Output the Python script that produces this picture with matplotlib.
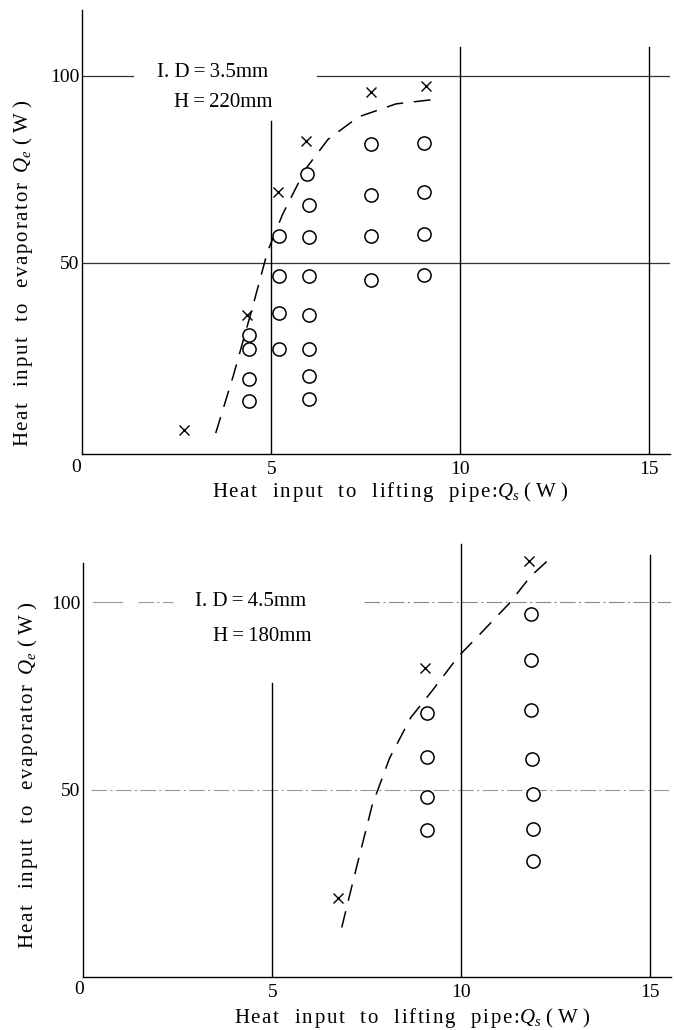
import numpy as np
import matplotlib.pyplot as plt

plt.rcParams['font.family'] = ['Liberation Serif', 'DejaVu Serif']
plt.rcParams['mathtext.fontset'] = 'custom'
plt.rcParams['mathtext.rm'] = 'Liberation Serif'
plt.rcParams['mathtext.it'] = 'Liberation Serif:italic'

# ---- data: top panel (I.D = 3.5 mm, H = 220 mm)
top_cross_x = [2.70, 4.37, 5.17, 5.93, 7.64, 9.10]
top_cross_y = [5.3, 36.0, 68.9, 82.5, 95.8, 97.3]
top_circ_x = [4.41, 4.41, 4.41, 4.41,
              5.20, 5.20, 5.20, 5.20,
              5.95, 6.00, 6.00, 6.00, 6.00, 6.00, 6.00, 6.00,
              7.65, 7.65, 7.65, 7.65,
              9.03, 9.03, 9.03, 9.03]
top_circ_y = [30.6, 27.1, 19.0, 13.1,
              57.3, 46.4, 36.5, 27.1,
              73.8, 65.6, 56.9, 46.6, 36.0, 27.1, 19.8, 13.5,
              81.9, 68.2, 57.3, 45.4,
              82.0, 68.9, 57.6, 46.9]
top_curve_x = [3.53, 4.0, 4.5, 4.9, 5.3, 5.9, 6.5, 7.3, 8.3, 9.4]
top_curve_y = [4.5, 20.0, 38.0, 53.0, 63.0, 75.0, 83.0, 89.0, 92.5, 93.8]

# ---- data: bottom panel (I.D = 4.5 mm, H = 180 mm)
bot_cross_x = [6.74, 9.05, 11.81]
bot_cross_y = [21.0, 82.6, 111.2]
bot_circ_x = [9.10, 9.10, 9.10, 9.10,
              11.86, 11.86, 11.86, 11.88, 11.90, 11.90, 11.90]
bot_circ_y = [70.6, 58.7, 48.0, 39.2,
              96.9, 84.7, 71.3, 58.3, 48.8, 39.4, 30.9]
bot_curve_x = [6.84, 7.20, 7.65, 8.11, 8.67, 9.24, 9.92, 10.6, 11.28, 11.84, 12.35]
bot_curve_y = [13.2, 28.0, 46.0, 58.5, 69.3, 76.5, 85.5, 92.6, 99.8, 107.0, 111.7]

x_ticks = [5, 10, 15]
y_ticks = [50, 100]
fs = 14
lfs = 15


def spaced(s):
    # loose letter spacing like the typeset original
    return '\u200a'.join(s)


fig = plt.figure(figsize=(6.74, 10.30), dpi=100)
ax1 = fig.add_axes([0.1221, 0.5595, 0.872, 0.4308])
ax2 = fig.add_axes([0.1236, 0.0515, 0.8716, 0.4290])


def base(ax, ylim, ybound):
    ax.set_xlim(0, 15.55)
    ax.set_ylim(*ylim)
    for s in ['top', 'right']:
        ax.spines[s].set_visible(False)
    ax.spines['left'].set_bounds(ylim[0], ybound)
    ax.spines['left'].set_linewidth(1.0)
    ax.spines['bottom'].set_linewidth(1.0)
    ax.set_xticks(x_ticks)
    ax.set_yticks(y_ticks)
    ax.tick_params(axis='x', length=0, pad=5, labelsize=fs)
    ax.tick_params(axis='y', length=0, pad=2, labelsize=fs)


base(ax1, (-1, 117.6), 117.6)
base(ax2, (0, 118), 110.6)

# top panel reference lines
ax1.plot([0, 1.35], [100, 100], color='#333333', lw=0.9)
ax1.plot([6.2, 15.55], [100, 100], color='#333333', lw=0.9)
ax1.axhline(50, color='#333333', lw=0.9)
ax1.plot([5, 5], [-1, 87.8], color='black', lw=1.0)
ax1.plot([10, 10], [-1, 107.6], color='black', lw=1.0)
ax1.plot([15, 15], [-1, 107.6], color='black', lw=1.0)

# bottom panel reference lines
gls = (0, (14, 3, 2, 3))
ax2.plot([0.26, 1.03], [100, 100], color='#999999', lw=0.8)
ax2.plot([1.44, 2.37], [100, 100], color='#999999', lw=0.8, ls=gls)
ax2.plot([7.43, 15.55], [100, 100], color='#888888', lw=0.8, ls=gls)
ax2.plot([0.2, 15.55], [50, 50], color='#999999', lw=0.8, ls=gls)
ax2.plot([5, 5], [0, 78.5], color='black', lw=1.0)
ax2.plot([10, 10], [0, 115.5], color='black', lw=1.0)
ax2.plot([15, 15], [0, 112.6], color='black', lw=1.0)

for ax, cx, cy, ox, oy, kx, ky in [
        (ax1, top_cross_x, top_cross_y, top_circ_x, top_circ_y, top_curve_x, top_curve_y),
        (ax2, bot_cross_x, bot_cross_y, bot_circ_x, bot_circ_y, bot_curve_x, bot_curve_y)]:
    ax.plot(kx, ky, color='black', lw=1.1, ls=(0, (11, 7)))
    ax.plot(cx, cy, ls='none', marker='x', ms=7, mew=1.0, color='black')
    ax.plot(ox, oy, ls='none', marker='o', ms=9.5, mew=1.1,
            mfc='white', mec='black')

ax1.text(4.91, 100.8, 'I. D\u2009=\u20093.5mm', fontsize=lfs, ha='right', va='center')
ax1.text(5.04, 93.0, 'H\u2009=\u2009220mm', fontsize=lfs, ha='right', va='center')
ax2.text(5.90, 100.2, 'I. D\u2009=\u20094.5mm', fontsize=lfs, ha='right', va='center')
ax2.text(6.03, 90.8, 'H\u2009=\u2009180mm', fontsize=lfs, ha='right', va='center')

xlab = ('   '.join(spaced(w) for w in ['Heat', 'input', 'to', 'lifting', 'pipe:'])
        + '$Q_s$ ( W )')
ylab = ('   '.join(spaced(w) for w in ['Heat', 'input', 'to', 'evaporator'])
        + '  $Q_e$ ( W )')
ax1.text(0.5236, -0.0863, xlab, transform=ax1.transAxes, fontsize=lfs,
         ha='center', va='center')
ax2.text(0.561, -0.0928, xlab, transform=ax2.transAxes, fontsize=lfs,
         ha='center', va='center')
ax1.text(-0.1009, 0.407, ylab, transform=ax1.transAxes, fontsize=lfs,
         ha='center', va='center', rotation=90)
ax2.text(-0.0941, 0.457, ylab, transform=ax2.transAxes, fontsize=lfs,
         ha='center', va='center', rotation=90)

fig.text(76 / 674, 1 - 468 / 1030, '0', fontsize=fs, ha='center', va='center')
fig.text(79 / 674, 1 - 990 / 1030, '0', fontsize=fs, ha='center', va='center')

fig.savefig('out.png', dpi=100)
